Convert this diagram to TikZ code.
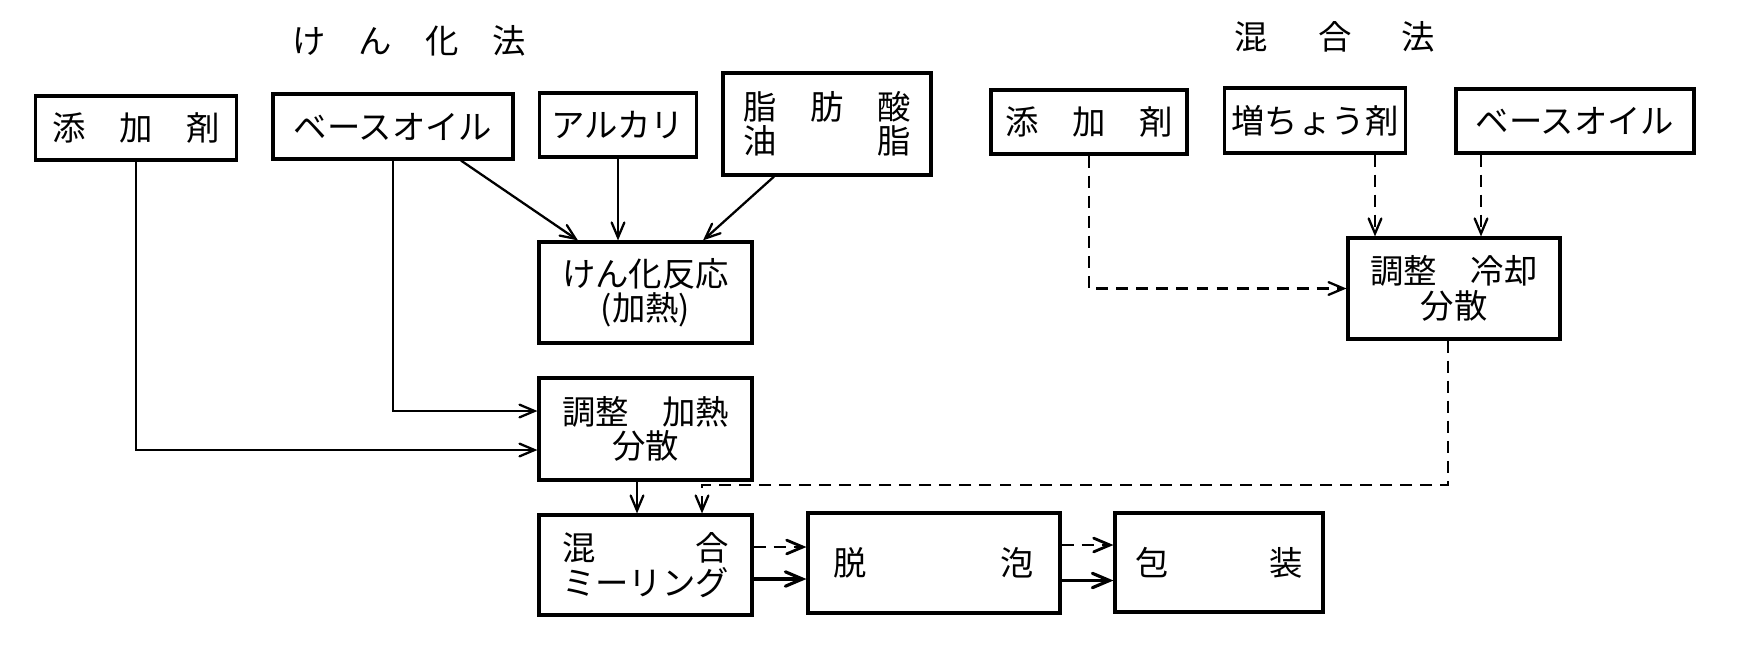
\documentclass[tikz,border=0pt]{standalone}
\usepackage{fontspec}
\newfontfamily\jpfont{Noto Sans CJK JP}
\usetikzlibrary{arrows}

\begin{document}
\begin{tikzpicture}[>=angle 45,
  box/.style={draw, line width=0.9pt, inner sep=0pt, align=center,
    font=\jpfont\fontsize{9.5}{9.8}\selectfont},
  flow/.style={->, line width=0.65pt},
  dflow/.style={flow, dash pattern=on 3.4pt off 2.3pt}]
  \useasboundingbox (0,0) rectangle (17.42,-6.61);

  % titles
  \node[font=\jpfont\fontsize{9.5}{9.8}\selectfont] (tSap) at (4.09,-0.41) {け　ん　化　法};
  \node[font=\jpfont\fontsize{9.5}{9.8}\selectfont] (tMix) at (13.35,-0.37) {混\hspace{1.5em}合\hspace{1.5em}法};

  % saponification side
  \node[box, minimum width=2.01cm, minimum height=0.64cm] (addL) at (1.36,-1.28) {添　加　剤};
  \node[box, minimum width=2.40cm, minimum height=0.65cm] (baseL) at (3.93,-1.265) {ベースオイル};
  \node[box, minimum width=1.57cm, minimum height=0.64cm] (alk) at (6.18,-1.25) {アルカリ};
  \node[box, minimum width=2.08cm, minimum height=1.02cm] (fat) at (8.27,-1.24) {脂　肪　酸\\油　　　脂};
  \node[box, minimum width=2.13cm, minimum height=1.01cm] (sap) at (6.455,-2.925) {けん化反応\\(加熱)};
  \node[box, minimum width=2.13cm, minimum height=1.02cm] (adjH) at (6.455,-4.29) {調整　加熱\\分散};

  % common steps
  \node[box, minimum width=2.13cm, minimum height=1.00cm] (mix) at (6.455,-5.65) {混　　　合\\ミーリング};
  \node[box, minimum width=2.52cm, minimum height=1.00cm] (defoam) at (9.34,-5.63) {脱　　　　泡};
  \node[box, minimum width=2.08cm, minimum height=0.99cm] (pack) at (12.19,-5.625) {包　　　装};

  % mixing side
  \node[box, minimum width=1.96cm, minimum height=0.64cm] (addR) at (10.89,-1.22) {添　加　剤};
  \node[box, minimum width=1.81cm, minimum height=0.65cm] (thick) at (13.15,-1.205) {増ちょう剤};
  \node[box, minimum width=2.38cm, minimum height=0.64cm] (baseR) at (15.75,-1.21) {ベースオイル};
  \node[box, minimum width=2.12cm, minimum height=1.01cm] (adjC) at (14.54,-2.885) {調整　冷却\\分散};

  \coordinate (turn) at (7.02,-4.85);

  % solid lines
  \draw[flow] (addL.south) |- ([yshift=-2.1mm]adjH.west);
  \draw[flow] (baseL.south) |- ([yshift=1.8mm]adjH.west);
  \draw[flow] ([xshift=6.8mm]baseL.south) -- ([xshift=-6.75mm]sap.north);
  \draw[flow] (alk.south) -- (alk.south |- sap.north);
  \draw[flow] ([xshift=-5.3mm]fat.south) -- ([xshift=5.75mm]sap.north);
  \draw[flow] ([xshift=-0.85mm]adjH.south) -- ([xshift=-0.85mm]mix.north);
  \draw[flow, line width=0.9pt] ([yshift=-1.4mm]mix.east) -- ([yshift=-1.4mm]mix.east -| defoam.west);
  \draw[flow, line width=0.9pt] ([yshift=-1.75mm]defoam.east) -- ([yshift=-1.75mm]defoam.east -| pack.west);

  % dashed lines
  \draw[dflow] (addR.south) |- (adjC.west);
  \draw[dflow] ([xshift=6mm]thick.south) -- ([xshift=6mm]thick.south |- adjC.north);
  \draw[dflow] ([xshift=-9.4mm]baseR.south) -- ([xshift=-9.4mm]baseR.south |- adjC.north);
  \draw[dflow] ([xshift=-0.6mm]adjC.south) |- (turn) -- (turn |- mix.north);
  \draw[dflow, line width=0.8pt] ([yshift=1.8mm]mix.east) -- ([yshift=1.8mm]mix.east -| defoam.west);
  \draw[dflow, line width=0.8pt] ([yshift=1.8mm]defoam.east) -- ([yshift=1.8mm]defoam.east -| pack.west);
\end{tikzpicture}
\end{document}
